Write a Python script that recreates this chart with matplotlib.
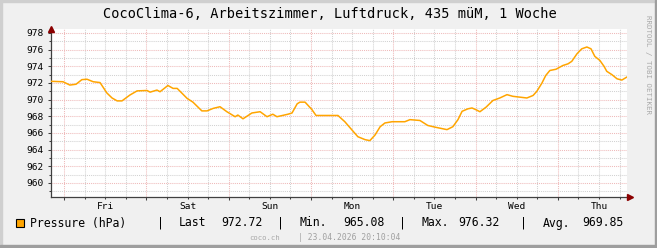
import matplotlib
matplotlib.use('Agg')

import matplotlib.pyplot as plt
import matplotlib.dates as mdates
from matplotlib.ticker import MultipleLocator, NullFormatter
from matplotlib.patches import Rectangle
from datetime import datetime, timedelta

# hours since start of the week window, and pressure (hPa)
hours = [0, 3.5, 5.5, 7.3, 9.0, 10.5, 12.3, 14.3, 16.3, 17.8, 19.3, 20.7,
         23.0, 25.1, 28.0, 28.9, 30.9, 31.8, 34.1, 35.6, 36.8, 39.7, 41.4,
         44.0, 45.5, 47.3, 49.3, 51.3, 53.7, 54.5, 56.0, 58.6, 61.0, 63.0,
         64.7, 65.9, 69.1, 70.3, 71.8, 72.6, 74.1, 75.0, 76.1, 77.3, 83.7,
         85.7, 87.8, 89.5, 91.6, 93.0, 94.5, 96.0, 97.4, 99.5, 103.2, 104.7,
         107.6, 109.9, 112.0, 115.5, 117.2, 118.7, 119.9, 121.6, 122.8, 123.9,
         125.1, 126.9, 128.9, 130.9, 133.0, 134.7, 138.8, 140.6, 141.7, 143.2,
         144.3, 145.5, 147.3, 149.3, 150.8, 151.9, 153.4, 154.8, 156.3, 157.5,
         158.6, 160.1, 161.3, 162.1, 163.6, 165.1, 166.5, 168.0]
pressure = [972.2, 972.15, 971.75, 971.85, 972.4, 972.45, 972.15, 972.05, 970.8, 970.2, 969.85, 969.85,
            970.55, 971.05, 971.1, 970.9, 971.15, 970.95, 971.7, 971.35, 971.35, 970.15, 969.7,
            968.65, 968.65, 968.95, 969.15, 968.55, 967.95, 968.15, 967.7, 968.4, 968.55, 967.95,
            968.25, 967.95, 968.25, 968.4, 969.5, 969.7, 969.7, 969.3, 968.8, 968.1, 968.1,
            967.35, 966.35, 965.55, 965.2, 965.08, 965.75, 966.75, 967.2, 967.35, 967.35, 967.6,
            967.5, 966.9, 966.7, 966.4, 966.75, 967.6, 968.6, 968.9, 969.0, 968.8,
            968.55, 969.1, 969.9, 970.2, 970.6, 970.4, 970.2, 970.5, 971.0, 972.0,
            972.9, 973.5, 973.65, 974.1, 974.3, 974.6, 975.5, 976.1, 976.32, 976.1,
            975.2, 974.7, 974.0, 973.4, 973.0, 972.5, 972.35, 972.72]

start = datetime(2026, 4, 16, 20, 10, 4)
title = "CocoClima-6, Arbeitszimmer, Luftdruck, 435 müM, 1 Woche"
series_name = "Pressure (hPa)"
stat_labels = ["Last", "Min.", "Max.", "Avg."]
stat_values = [972.72, 965.08, 976.32, 969.85]
footer_site = "coco.ch"
footer_date = "| 23.04.2026 20:10:04"
watermark = "RRDTOOL / TOBI OETIKER"

plt.rcParams['font.family'] = 'DejaVu Sans Mono'

W, H = 657, 248
fig = plt.figure(figsize=(W / 100, H / 100), dpi=100, facecolor='#F0F0F0')


def fx(x):
    return x / W


def fy(y):
    return 1 - y / H


# 3d-ish frame
fig.patches.append(Rectangle((0, 0), fx(2), 1, transform=fig.transFigure, color='#CFCFCF', zorder=0))
fig.patches.append(Rectangle((0, fy(2)), 1, 2 / H, transform=fig.transFigure, color='#CFCFCF', zorder=0))
fig.patches.append(Rectangle((fx(655), 0), fx(2), 1, transform=fig.transFigure, color='#9E9E9E', zorder=0))
fig.patches.append(Rectangle((0, 0), 1, 3 / H, transform=fig.transFigure, color='#9E9E9E', zorder=0))

top, bot = 29, 196.7
ax = fig.add_axes([fx(51), fy(bot), fx(576), (bot - top) / H])
ax.set_facecolor('white')

times = [start + timedelta(hours=h) for h in hours]
ax.plot(times, pressure, color='#FFA500', lw=1.1, solid_joinstyle='round', zorder=3)

ax.set_xlim(start, start + timedelta(days=7))
ax.set_ylim(958.35, 978.48)

ax.yaxis.set_major_locator(MultipleLocator(2))
ax.yaxis.set_minor_locator(MultipleLocator(1))
ax.xaxis.set_major_locator(mdates.DayLocator())
ax.xaxis.set_minor_locator(mdates.HourLocator(byhour=[6, 12, 18]))
ax.xaxis.set_major_formatter(NullFormatter())

ax.grid(which='major', color='#EFBABA', linestyle=(0, (1, 1)), lw=0.75)
ax.grid(which='minor', color='#D2D2D2', linestyle=(0, (1, 1)), lw=0.75)
ax.set_axisbelow(True)

for s in ['top', 'right']:
    ax.spines[s].set_visible(False)
for s in ['left', 'bottom']:
    ax.spines[s].set_color('#404040')
    ax.spines[s].set_linewidth(0.9)

ax.tick_params(which='major', length=2.5, width=0.75, color='#404040', labelsize=6.8, pad=3.0)
ax.tick_params(which='minor', length=1.6, width=0.75, color='#404040')

# day names at noon
day0 = datetime(start.year, start.month, start.day)
for d in range(9):
    noon = day0 + timedelta(days=d, hours=12)
    if start <= noon <= start + timedelta(days=7):
        ax.text(noon, -(209 - bot) / (bot - top), noon.strftime('%a'), transform=ax.get_xaxis_transform(),
                ha='center', va='baseline', fontsize=6.8)

# axis arrows
ax.plot([0], [1.0], marker='^', markersize=3.8, color='#8B0000', transform=ax.transAxes, clip_on=False, zorder=5)
ax.plot([1.006], [0], marker='>', markersize=3.8, color='#8B0000', transform=ax.transAxes, clip_on=False, zorder=5)

fig.text(fx(330), fy(18.5), title, ha='center', va='baseline', fontsize=9.8)

# legend line
fig.patches.append(Rectangle((fx(15.5), fy(227)), 8 / W, 8.5 / H, transform=fig.transFigure,
                             facecolor='#FFA500', edgecolor='black', lw=0.8))
ly = fy(226.5)
fig.text(fx(30), ly, series_name, ha='left', va='baseline', fontsize=8.3)
label_x = [179, 300, 422, 543]
value_x = [221, 343, 458, 582]
bar_x = [160, 280, 402, 523]
for lab, val, lx, vx, bx in zip(stat_labels, stat_values, label_x, value_x, bar_x):
    fig.text(fx(bx), ly, "|", ha='center', va='baseline', fontsize=8.3)
    fig.text(fx(lx), ly, lab, ha='left', va='baseline', fontsize=8.3)
    fig.text(fx(vx), ly, "%.2f" % val, ha='left', va='baseline', fontsize=8.3)

fig.text(fx(280), fy(239.5), footer_site, ha='right', va='baseline', fontsize=5.2, color='#A8A8A8')
fig.text(fx(298), fy(239.5), footer_date, ha='left', va='baseline', fontsize=5.8, color='#A0A0A0')

fig.text(fx(648), fy(15), watermark, ha='center', va='top', rotation=270, fontsize=5.4, color='#AAAAAA')

plt.savefig("out.png", dpi=100, facecolor=fig.get_facecolor())
